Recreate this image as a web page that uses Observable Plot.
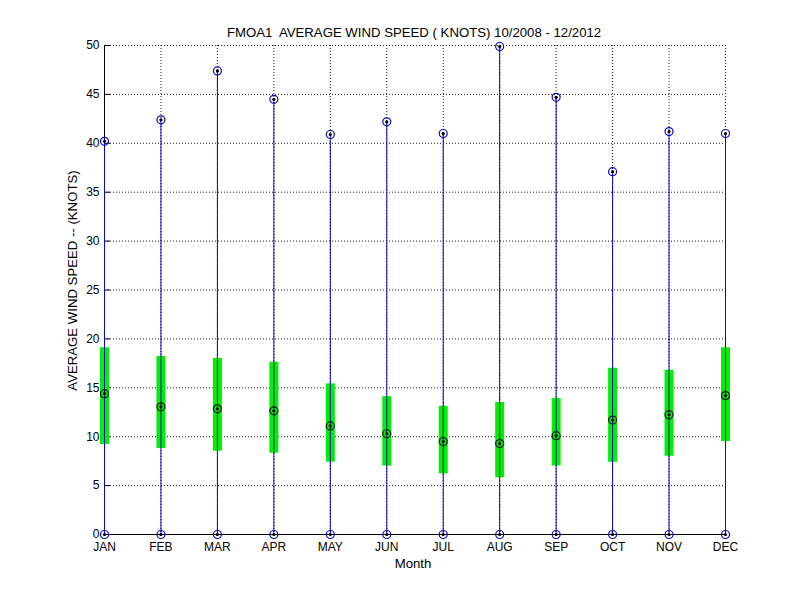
<!DOCTYPE html>
<html>
<head>
<meta charset="utf-8">
<script src="https://cdn.jsdelivr.net/npm/d3@7"></script>
<script src="https://cdn.jsdelivr.net/npm/@observablehq/plot@0.6"></script>
<style>
  html, body { margin: 0; padding: 0; background: #fff; }
  #chart svg { display: block; }
</style>
</head>
<body>
<div id="chart"></div>
<script>
const months = ["JAN","FEB","MAR","APR","MAY","JUN","JUL","AUG","SEP","OCT","NOV","DEC"];
const maxVals = [40.2, 42.4, 47.4, 44.5, 40.9, 42.2, 41.0, 49.9, 44.7, 37.1, 41.2, 41.0];
const minVals = [0, 0, 0, 0, 0, 0, 0, 0, 0, 0, 0, 0];
const q75Vals = [19.1, 18.2, 18.0, 17.6, 15.4, 14.1, 13.1, 13.5, 13.9, 17.0, 16.8, 19.1];
const q25Vals = [9.2, 8.8, 8.5, 8.3, 7.4, 7.0, 6.2, 5.8, 7.0, 7.4, 8.0, 9.5];
const medianVals = [14.4, 13.05, 12.85, 12.65, 11.1, 10.3, 9.5, 9.3, 10.1, 11.7, 12.25, 14.2];
const yTicks = [0, 5, 10, 15, 20, 25, 30, 35, 40, 45, 50];
const titleText = "FMOA1  AVERAGE WIND SPEED ( KNOTS) 10/2008 - 12/2012";
const xLabel = "Month";
const yLabel = "AVERAGE WIND SPEED -- (KNOTS)";

const rows = months.map((m, i) => ({
  idx: i + 1, month: m,
  max: maxVals[i], min: minVals[i], q75: q75Vals[i], q25: q25Vals[i], med: medianVals[i]
}));
const idxs = rows.map(d => d.idx);
const extremes = rows.flatMap(d => [{idx: d.idx, v: d.max}, {idx: d.idx, v: d.min}]);

const blue = "#0808c0";
const green = "#00f000";
const font = "'Liberation Sans', Arial, sans-serif";

const chart = Plot.plot({
  width: 800,
  height: 600,
  marginLeft: 104,
  marginRight: 75,
  marginTop: 45,
  marginBottom: 66,
  style: {fontFamily: font, fontSize: "12px", background: "#fff", color: "#000"},
  x: {type: "linear", domain: [1, 12]},
  y: {type: "linear", domain: [0, 50]},
  marks: [
    Plot.gridX(idxs, {stroke: "#000", strokeOpacity: 0.9, strokeDasharray: "1,2"}),
    Plot.gridY(yTicks, {stroke: "#000", strokeOpacity: 0.9, strokeDasharray: "1,2"}),
    Plot.ruleX([1], {stroke: "#000"}),
    Plot.ruleY([0], {stroke: "#000"}),
    Plot.axisY(yTicks, {tickSize: -6, tickPadding: 11, label: null, fontSize: 12}),
    Plot.axisX(idxs, {tickSize: 0, tickPadding: 8, label: null, fontSize: 12,
      tickFormat: i => months[i - 1]}),
    Plot.ruleX(rows, {x: "idx", y1: "q25", y2: "q75", stroke: green, strokeWidth: 9}),
    Plot.ruleX(rows, {x: "idx", y1: "min", y2: "max", stroke: blue, strokeWidth: 1}),
    Plot.dot(extremes, {x: "idx", y: "v", r: 4, stroke: blue, strokeWidth: 1.2, fill: "none"}),
    Plot.dot(extremes, {x: "idx", y: "v", r: 1.6, fill: "#000", stroke: "none"}),
    Plot.dot(rows, {x: "idx", y: "med", r: 4, stroke: "#111", strokeWidth: 1.2, fill: "none"}),
    Plot.dot(rows, {x: "idx", y: "med", r: 1.6, fill: "#000", stroke: "none"}),
    Plot.text([titleText], {frameAnchor: "top", dy: -13, dx: -1, fontSize: 13.2, textAnchor: "middle", lineAnchor: "middle", fill: "#000"}),
    Plot.text([xLabel], {frameAnchor: "bottom", dy: 29, dx: -2, fontSize: 13.2, textAnchor: "middle", lineAnchor: "middle", fill: "#000"}),
    Plot.text([yLabel], {frameAnchor: "left", dx: -32, dy: -9.5, rotate: -90, fontSize: 13.2, textAnchor: "middle", lineAnchor: "middle", fill: "#000"})
  ]
});
document.getElementById("chart").appendChild(chart);
</script>
</body>
</html>
